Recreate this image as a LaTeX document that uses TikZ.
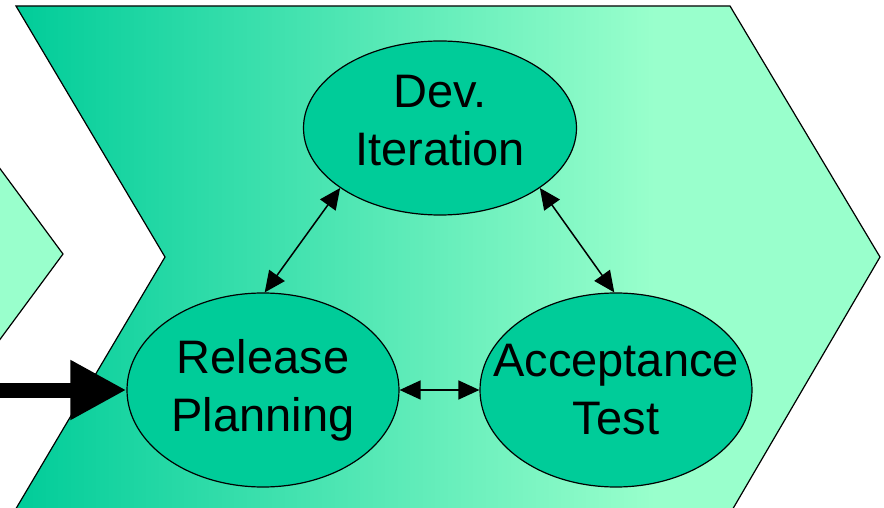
\documentclass[tikz,border=0pt]{standalone}
\usepackage[dvipsnames,svgnames]{xcolor}
\usepackage{fontspec}
\setmainfont{Liberation Sans}
\usetikzlibrary{shapes.geometric,arrows.meta}
\definecolor{phasedark}{HTML}{00CC99}
\definecolor{phaselight}{HTML}{99FFCC}
\pgfdeclarehorizontalshading{phase}{100bp}{color(0bp)=(phasedark); color(25bp)=(phasedark); color(62bp)=(phaselight); color(100bp)=(phaselight)}
\tikzset{
    activity/.style={ellipse, draw, line width=1.2pt, fill=phasedark, inner sep=0pt},
    caption/.style={align=center, inner sep=0pt, font=\fontsize{47}{58}\selectfont},
    link/.style={line width=1.5pt, {Triangle[length=21pt,width=19pt]}-{Triangle[length=21pt,width=19pt]}}
}

\begin{document}
\begin{tikzpicture}[x=1pt,y=-1pt]
    \useasboundingbox (0,0) rectangle (884,508);
    \clip (0,0) rectangle (884,508);
    \coordinate (P) at (-120,6);
    \coordinate (Q) at (63,254);
    \coordinate (R) at (-120,502);
    \coordinate (A) at (16,6);
    \coordinate (B) at (730,6);
    \coordinate (C) at (880,257);
    \coordinate (D) at (731,512);
    \coordinate (E) at (14,512);
    \coordinate (F) at (165,257);
    \fill[phaselight] (P) -- (Q) -- (R) -- cycle;
    \draw[line width=1.2pt] (P) -- (Q) -- (R);
    \shade[shading=phase] (A) -- (B) -- (C) -- (D) -- (E) -- (F) -- cycle;
    \draw[line width=1.2pt] (A) -- (B) -- (C) -- (D) -- (E) -- (F) -- cycle;
    \node[activity, minimum width=273pt, minimum height=174pt,
        label={[caption, yshift=7pt]center:{Dev.\\Iteration}}] (dev) at (440,128) {};
    \node[activity, minimum width=272pt, minimum height=194pt,
        label={[caption]center:{Release\\Planning}}] (rel) at (263,390) {};
    \node[activity, minimum width=272pt, minimum height=194pt,
        label={[caption]center:{Acceptance\\Test}}] (acc) at (616,390) {};
    \draw[link] (dev.211) -- (rel.89);
    \draw[link] (dev.329) -- (acc.91);
    \draw[link] (rel.east) -- (acc.west);
    \coordinate (in) at (-5,390);
    \draw[line width=15pt, -{Triangle[length=56pt,width=56pt]}] (in) -- (rel.west);
\end{tikzpicture}
\end{document}
